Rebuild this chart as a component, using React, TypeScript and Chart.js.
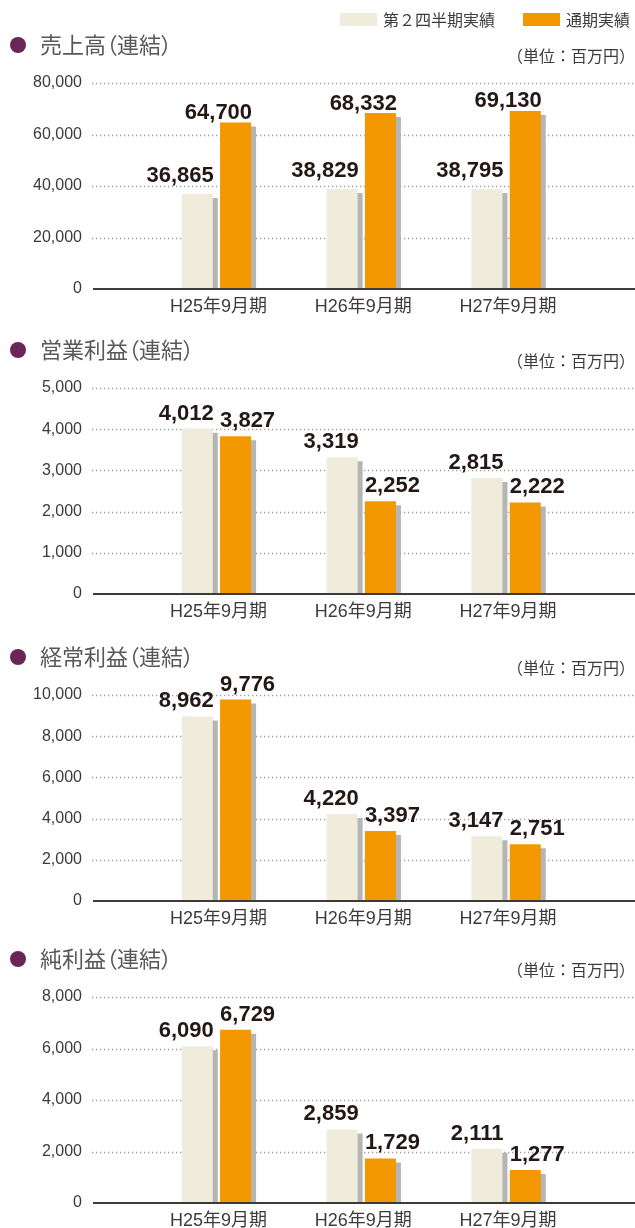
import React, { useEffect, useRef } from 'react';
import { Chart, registerables } from 'chart.js';

Chart.register(...registerables);

// ---- data ----
const categories = ['H25年9月期', 'H26年9月期', 'H27年9月期'];
const seriesNames = ['第２四半期実績', '通期実績'];
const titles = ['売上高（連結）', '営業利益（連結）', '経常利益（連結）', '純利益（連結）'];
const unitLabel = '（単位：百万円）';

const salesQ2 = [36865, 38829, 38795];
const salesFull = [64700, 68332, 69130];
const opIncomeQ2 = [4012, 3319, 2815];
const opIncomeFull = [3827, 2252, 2222];
const ordIncomeQ2 = [8962, 4220, 3147];
const ordIncomeFull = [9776, 3397, 2751];
const netIncomeQ2 = [6090, 2859, 2111];
const netIncomeFull = [6729, 1729, 1277];

const axisMax = [80000, 5000, 10000, 8000];
const axisStep = [20000, 1000, 2000, 2000];

// ---- styles ----
const LIGHT = '#efecdb';
const ORANGE = '#f39800';
const SHADOW = '#b5b5b6';
const DOT = '#6b2557';
const TEXT_DARK = '#231815';
const TEXT_MID = '#3e3a39';
const TITLE_GRAY = '#595757';
const LATIN = '"Liberation Sans", "Noto Sans CJK JP", sans-serif';
const CJK = '"Noto Sans CJK JP", "Liberation Sans", sans-serif';

const sectionTops = [0, 305, 612, 914];
const CHART_TOP = 83;
const CHART_BOTTOM = 289;

const panelPlugin = {
  id: 'panel',
  beforeDatasetsDraw(chart: any) {
    const { ctx } = chart;
    const y = chart.scales.y;
    ctx.save();
    ctx.strokeStyle = '#a0a0a0';
    ctx.lineWidth = 1.3;
    ctx.setLineDash([1.3, 2.7]);
    y.ticks.forEach((t: any) => {
      if (t.value === 0) return;
      const py = Math.round(y.getPixelForValue(t.value)) + 0.5;
      ctx.beginPath();
      ctx.moveTo(y.right - 52, py);
      ctx.lineTo(chart.width, py);
      ctx.stroke();
    });
    ctx.restore();
  },
  beforeDatasetDraw(chart: any) {
    const { ctx } = chart;
    ctx.save();
    ctx.shadowColor = SHADOW;
    ctx.shadowOffsetX = 5;
    ctx.shadowOffsetY = 4;
    ctx.shadowBlur = 0;
  },
  afterDatasetDraw(chart: any) {
    chart.ctx.restore();
  },
  afterDatasetsDraw(chart: any, _args: any, opts: any) {
    const { ctx } = chart;
    const y = chart.scales.y;
    const x = chart.scales.x;
    const base = y.getPixelForValue(0);
    ctx.save();
    ctx.strokeStyle = TEXT_MID;
    ctx.lineWidth = 2;
    ctx.beginPath();
    ctx.moveTo(y.right - 51, base);
    ctx.lineTo(chart.width, base);
    ctx.stroke();

    // category labels
    ctx.font = '18px ' + LATIN;
    ctx.fillStyle = TEXT_MID;
    ctx.textAlign = 'center';
    ctx.textBaseline = 'middle';
    chart.data.labels.forEach((lab: string, i: number) => {
      ctx.fillText(lab, x.getPixelForValue(i) + 2, base + 18);
    });

    // value labels
    ctx.font = 'bold 22px ' + LATIN;
    ctx.fillStyle = TEXT_DARK;
    ctx.textBaseline = 'alphabetic';
    chart.data.datasets.forEach((ds: any, di: number) => {
      const meta = chart.getDatasetMeta(di);
      const align = opts.aligns[di];
      const gap = opts.gaps[di];
      meta.data.forEach((el: any, i: number) => {
        const v = ds.data[i];
        const txt = v.toLocaleString('en-US');
        const half = el.width / 2;
        ctx.textAlign = align;
        const px = align === 'right' ? el.x + half + 1 : el.x - half;
        ctx.fillText(txt, px, el.y - gap);
      });
    });
    ctx.restore();
  },
};

type PanelProps = {
  index: number;
  q2: number[];
  full: number[];
  aligns: string[];
  gaps: number[];
};

function Panel({ index, q2, full, aligns, gaps }: PanelProps) {
  const ref = useRef<HTMLCanvasElement>(null);
  const top = sectionTops[index];
  const height = index === 3 ? 1228 - top : 322;

  useEffect(() => {
    const chart = new Chart(ref.current as HTMLCanvasElement, {
      type: 'bar',
      data: {
        labels: categories,
        datasets: [
          {
            label: seriesNames[0],
            data: q2,
            backgroundColor: LIGHT,
            borderWidth: 0,
            categoryPercentage: 0.529,
            barPercentage: 0.81,
          },
          {
            label: seriesNames[1],
            data: full,
            backgroundColor: ORANGE,
            borderWidth: 0,
            categoryPercentage: 0.529,
            barPercentage: 0.81,
          },
        ],
      },
      options: {
        animation: false,
        responsive: false,
        devicePixelRatio: 1,
        layout: { padding: { top: CHART_TOP, right: 56.5, left: 0, bottom: height - CHART_BOTTOM } },
        plugins: {
          legend: { display: false },
          tooltip: { enabled: false },
          panel: { aligns, gaps },
        } as any,
        scales: {
          x: {
            display: false,
          },
          y: {
            min: 0,
            max: axisMax[index],
            grid: { display: false, drawTicks: false },
            border: { display: false },
            ticks: {
              stepSize: axisStep[index],
              padding: 62,
              font: { size: 16, family: LATIN },
              color: TEXT_MID,
              callback: (v: any) => Number(v).toLocaleString('en-US'),
            },
            afterFit: (s: any) => {
              s.width = 144;
              s.paddingTop = 8;
              s.paddingBottom = 8;
            },
          },
        } as any,
      },
      plugins: [panelPlugin as any],
    });
    return () => chart.destroy();
  }, []);

  return (
    <div style={{ position: 'absolute', left: 0, top, width: 635, height }}>
      <canvas
        ref={ref}
        width={635}
        height={height}
        style={{ display: 'block', position: 'absolute', left: 0, top: 0, width: 635, height }}
      />
      <div
        style={{
          position: 'absolute',
          left: 10,
          top: 37,
          width: 16,
          height: 16,
          borderRadius: '50%',
          background: DOT,
        }}
      />
      <div
        style={{
          position: 'absolute',
          left: 40,
          top: 29,
          fontFamily: CJK,
          fontSize: 22,
          lineHeight: '28px',
          color: TITLE_GRAY,
          fontFeatureSettings: '"palt"',
          whiteSpace: 'nowrap',
        }}
      >
        {titles[index]}
      </div>
      <div
        style={{
          position: 'absolute',
          right: 0,
          top: 44,
          fontFamily: CJK,
          fontSize: 16,
          lineHeight: '22px',
          color: TEXT_MID,
          whiteSpace: 'nowrap',
        }}
      >
        {unitLabel}
      </div>
    </div>
  );
}

function Legend() {
  const item = (color: string, text: string, left: number) => (
    <div style={{ position: 'absolute', left, top: 8, height: 22, display: 'flex', alignItems: 'center', whiteSpace: 'nowrap' }}>
      <div style={{ width: 37, height: 13, background: color, marginRight: 6 }} />
      <span style={{ fontFamily: CJK, fontSize: 16, lineHeight: '22px', color: TEXT_MID }}>{text}</span>
    </div>
  );
  return (
    <>
      {item(LIGHT, seriesNames[0], 340)}
      {item(ORANGE, seriesNames[1], 523)}
    </>
  );
}

export default function App() {
  return (
    <div style={{ position: 'absolute', left: 0, top: 0, width: 635, height: 1228, overflow: 'hidden', background: '#fff' }}>
      <Panel index={0} q2={salesQ2} full={salesFull} aligns={['right', 'right']} gaps={[12, 3.5]} />
      <Panel index={1} q2={opIncomeQ2} full={opIncomeFull} aligns={['right', 'left']} gaps={[9, 9]} />
      <Panel index={2} q2={ordIncomeQ2} full={ordIncomeFull} aligns={['right', 'left']} gaps={[9, 9]} />
      <Panel index={3} q2={netIncomeQ2} full={netIncomeFull} aligns={['right', 'left']} gaps={[9, 9]} />
      <Legend />
    </div>
  );
}
